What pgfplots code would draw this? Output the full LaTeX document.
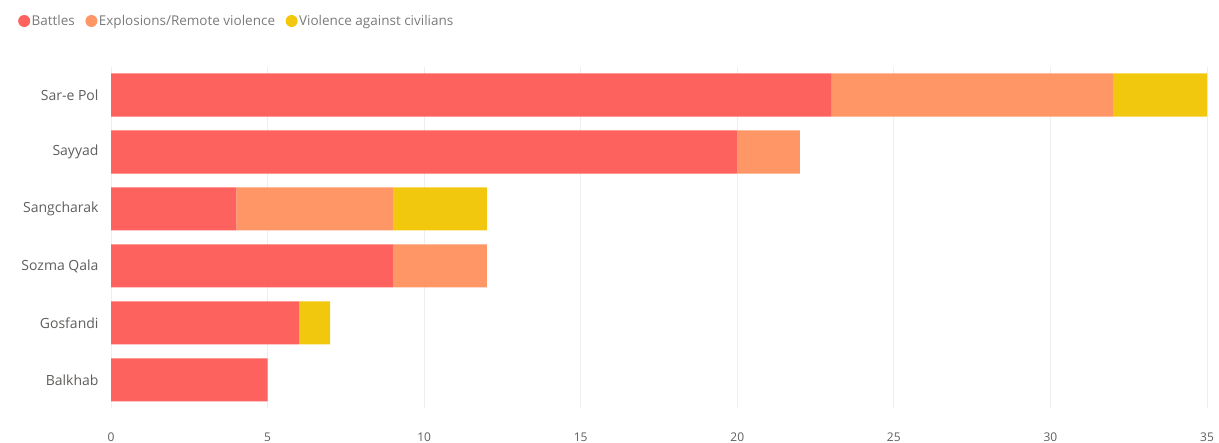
\documentclass[border=0pt]{standalone}
\usepackage{fontspec}
\setmainfont{Open Sans}
\usepackage{pgfplots}
\pgfplotsset{compat=1.18}
\definecolor{cBat}{HTML}{FD625E}
\definecolor{cExp}{HTML}{FE9666}
\definecolor{cViol}{HTML}{F2C80F}
\definecolor{txt}{HTML}{605E5C}
\definecolor{ltxt}{HTML}{7A7A7A}
\definecolor{grd}{HTML}{EEEEEE}
\begin{document}
\begin{tikzpicture}[x=1pt,y=1pt]
\useasboundingbox (0,0) rectangle (1219,443);
\begin{axis}[
  at={(111pt,34.5pt)}, anchor=south west,
  scale only axis, width=1096pt, height=342pt,
  xbar stacked, bar width=43pt,
  xmin=0, xmax=35, ymin=-0.5, ymax=5.5, y dir=reverse,
  ytick={0,...,5},
  yticklabels={Sar-e Pol,Sayyad,Sangcharak,Sozma Qala,Gosfandi,Balkhab},
  xtick={0,5,...,35},
  axis line style={draw=none}, major tick length=0pt,
  xmajorgrids, grid style={grd, line width=0.8pt},
  ticklabel style={text=txt},
  xticklabel style={font=\fontsize{12}{14}\selectfont, anchor=center, yshift=-28.5pt},
  yticklabel style={font=\fontsize{14}{16}\selectfont, xshift=-9pt},
  /pgf/number format/assume math mode=true,
  legend columns=3,
  legend style={draw=none, fill=none, at={(-0.0876,1.133)}, anchor=west,
    font=\fontsize{13.5}{15}\selectfont, text=ltxt, nodes={inner sep=1.5pt},
    /tikz/every even column/.append style={column sep=9pt}},
  legend image code/.code={\fill[#1] (6pt,0pt) circle (6pt);},
]
\addplot[fill=cBat, draw=none] coordinates {(23,0) (20,1) (4,2) (9,3) (6,4) (5,5)};
\addlegendentry{Battles}
\addplot[fill=cExp, draw=none] coordinates {(9,0) (2,1) (5,2) (3,3) (0,4) (0,5)};
\addlegendentry{Explosions/Remote violence}
\addplot[fill=cViol, draw=none] coordinates {(3,0) (0,1) (3,2) (0,3) (1,4) (0,5)};
\addlegendentry{Violence against civilians}
\end{axis}
\end{tikzpicture}
\end{document}
